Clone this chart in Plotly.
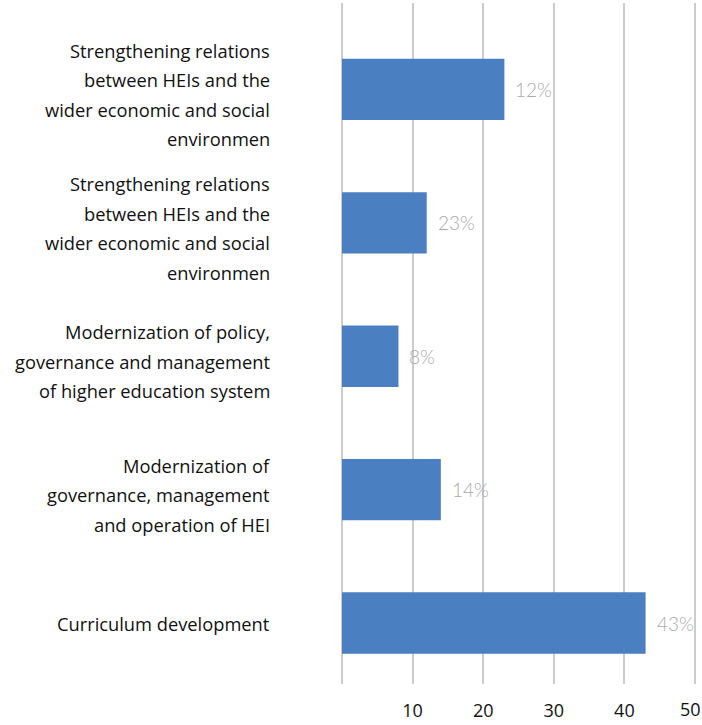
import plotly.graph_objects as go

# Priority areas, listed bottom to top as they appear on the axis
categories = [
    "Curriculum development",
    "Modernization of<br>governance, management<br>and operation of HEI",
    "Modernization of policy,<br>governance and management<br>of higher education system",
    "Strengthening relations<br>between HEIs and the<br>wider economic and social<br>environmen",
    "Strengthening relations<br>between HEIs and the<br>wider economic and social<br>environmen ",
]
values = [43, 14, 8, 12, 23]
value_labels = ["43%", "14%", "8%", "23%", "12%"]
x_ticks = [0, 10, 20, 30, 40, 50]
x_tick_text = ["", "10", "20", "30", "40", "50"]

BAR_COLOR = "#4a80c1"
GRID_COLOR = "#cccccc"
LABEL_FONT = "Open Sans"
TICK_FONT = dict(family=LABEL_FONT, size=18, color="#111111")

positions = list(range(len(categories)))

# the last tick sits at the page edge; it is drawn as a nudged annotation
tick_text_drawn = x_tick_text[:-1] + [""]

fig = go.Figure(
    go.Bar(
        x=values,
        y=positions,
        orientation="h",
        width=0.46,
        marker=dict(color=BAR_COLOR, line=dict(width=0)),
        hoverinfo="skip",
    )
)

fig.add_annotation(
    x=x_ticks[-1], xref="x", y=0, yref="paper",
    text=x_tick_text[-1], showarrow=False,
    xanchor="center", yanchor="top", xshift=-5, yshift=-11,
    font=TICK_FONT,
)

# Percentage labels just right of each bar
for pos, val, lab in zip(positions, values, value_labels):
    fig.add_annotation(
        x=val, y=pos, xref="x", yref="y",
        text=lab, showarrow=False,
        xanchor="left", yanchor="middle", xshift=9,
        font=dict(family="Lato", size=19, color="#aaaaaa", weight=300),
    )

# Category labels, one annotation per line for wider line spacing
LINE_GAP = 29.5
for pos, cat in zip(positions, categories):
    lines = cat.split("<br>")
    n = len(lines)
    offset = -5 if n > 1 else 0
    for i, line in enumerate(lines):
        fig.add_annotation(
            x=0, y=pos, xref="x", yref="y",
            text=line.strip(), showarrow=False,
            xanchor="right", yanchor="middle",
            xshift=-70, yshift=((n - 1) / 2 - i) * LINE_GAP + offset,
            font=dict(family=LABEL_FONT, size=18.3, color="#111111"),
        )

fig.update_layout(
    width=702,
    height=725,
    margin=dict(l=338, r=0, t=3, b=41, autoexpand=False),
    paper_bgcolor="white",
    plot_bgcolor="white",
    showlegend=False,
    xaxis=dict(
        range=[-0.567, 50.99],
        tickvals=x_ticks,
        ticktext=tick_text_drawn,
        showgrid=True,
        gridcolor=GRID_COLOR,
        gridwidth=1.5,
        zeroline=False,
        showline=False,
        ticks="",
        automargin=False,
        ticklabelstandoff=14,
        ticklabeloverflow="allow",
        tickfont=TICK_FONT,
        fixedrange=True,
    ),
    yaxis=dict(
        range=[-0.457, 4.648],
        tickvals=positions,
        showticklabels=False,
        showgrid=False,
        zeroline=False,
        showline=False,
        automargin=False,
        fixedrange=True,
    ),
)

fig.write_html("out.html")
